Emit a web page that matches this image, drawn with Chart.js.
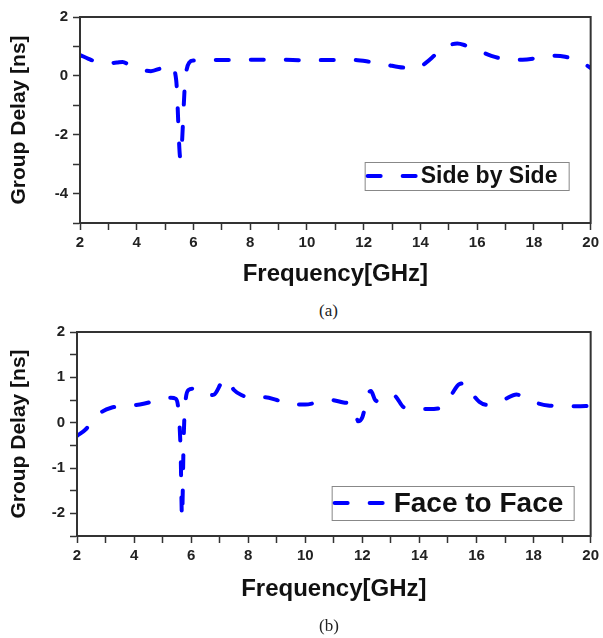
<!DOCTYPE html>
<html lang="en">
<head>
<meta charset="UTF-8">
<title>Group Delay</title>
<script src="https://cdn.jsdelivr.net/npm/chart.js"></script>
<style>
  body { margin: 0; background: #fff; width: 603px; height: 638px; position: relative; overflow: hidden; }
  .panel { position: absolute; left: 0; width: 603px; height: 300px; }
  .caption { position: absolute; font-family: "Liberation Serif", "DejaVu Serif", serif; font-size: 17px; line-height: 20px; color: #222; }
</style>
</head>
<body>
<div class="panel" style="top:0"><canvas id="chartA"></canvas></div>
<div class="caption" style="top:301px; left:319px">(a)</div>
<div class="panel" style="top:318px"><canvas id="chartB"></canvas></div>
<div class="caption" style="top:616px; left:319px">(b)</div>

<script>
// (a) Side by Side
const freqA = [2.0, 2.3, 2.6, 3.0, 3.3, 3.5, 3.8, 4.2, 4.5, 4.8, 5.05, 5.2, 5.39, 5.54, 5.71, 5.85, 6.0,
  7.0, 8.0, 9.0, 10.0, 11.0, 11.6, 12.2, 12.8, 13.4, 13.9, 14.2, 14.6, 15.0, 15.3, 15.6, 16.0,
  16.5, 17.0, 17.6, 18.2, 18.7, 19.1, 19.6, 20.0];
const delayA = [0.71, 0.58, 0.47, 0.43, 0.45, 0.47, 0.33, 0.2, 0.16, 0.24, 0.34, 0.36, -0.14, -2.82, -0.14, 0.45, 0.52,
  0.54, 0.55, 0.55, 0.53, 0.54, 0.54, 0.48, 0.38, 0.28, 0.27, 0.45, 0.78, 1.03, 1.1, 1.03, 0.88,
  0.68, 0.57, 0.55, 0.62, 0.68, 0.65, 0.5, 0.27];

// (b) Face to Face
const freqB = [2.0, 2.3, 2.6, 2.9, 3.2, 3.7, 4.2, 4.6, 5.0, 5.3, 5.45, 5.55, 5.63, 5.68, 5.74, 5.78, 5.9,
  6.1, 6.5, 6.8, 7.1, 7.25, 7.5, 7.8, 8.2, 8.6, 9.0, 9.5, 10.0, 10.5, 10.9, 11.3, 11.6, 11.75,
  11.85, 12.0, 12.2, 12.3, 12.45, 12.7, 12.95, 13.1, 13.45, 13.8, 14.3, 14.7, 15.1, 15.4, 15.65,
  15.9, 16.1, 16.4, 16.7, 17.0, 17.4, 17.9, 18.5, 19.0, 19.5, 20.0];
const delayB = [-0.29, -0.15, 0.08, 0.25, 0.33, 0.37, 0.4, 0.46, 0.53, 0.55, 0.53, 0.3, -0.6, -2.1, -0.3, 0.3, 0.72,
  0.75, 0.6, 0.62, 0.92, 0.97, 0.72, 0.6, 0.53, 0.56, 0.5, 0.4, 0.4, 0.46, 0.5, 0.45, 0.4, 0.28,
  0.03, 0.12, 0.63, 0.7, 0.5, 0.45, 0.55, 0.6, 0.34, 0.3, 0.3, 0.32, 0.6, 0.85, 0.87,
  0.6, 0.46, 0.39, 0.44, 0.52, 0.62, 0.48, 0.38, 0.37, 0.36, 0.37];

const xLabels = [2, 4, 6, 8, 10, 12, 14, 16, 18, 20];
const yLabelsA = [-4, -2, 0, 2];
const yLabelsB = [-2, -1, 0, 1, 2];

const FONT = '"Liberation Sans", Arial, sans-serif';

// box round the plot area
const framePlugin = {
  id: 'frame',
  afterDatasetsDraw(chart) {
    const { ctx, chartArea: a } = chart;
    ctx.save();
    ctx.strokeStyle = '#333';
    ctx.lineWidth = 2;
    ctx.strokeRect(a.left, a.top, a.right - a.left, a.bottom - a.top);
    ctx.restore();
  }
};

// legend drawn inside the plot, bottom right
const insideLegend = {
  id: 'insideLegend',
  afterDraw(chart, args, opts) {
    const { ctx, chartArea: a } = chart;
    const ds = chart.data.datasets[0];
    const x = a.right - opts.right - opts.width;
    const y = a.bottom - opts.bottom - opts.height;
    const mid = y + opts.height / 2;
    ctx.save();
    ctx.fillStyle = '#fff';
    ctx.fillRect(x, y, opts.width, opts.height);
    ctx.strokeStyle = '#888';
    ctx.lineWidth = 1;
    ctx.strokeRect(x + 0.5, y + 0.5, opts.width, opts.height);
    ctx.strokeStyle = ds.borderColor;
    ctx.lineWidth = ds.borderWidth;
    ctx.lineCap = 'round';
    ctx.setLineDash(ds.borderDash);
    ctx.beginPath();
    ctx.moveTo(x + opts.inset, mid);
    ctx.lineTo(x + opts.inset + opts.sample, mid);
    ctx.stroke();
    ctx.setLineDash([]);
    ctx.fillStyle = '#111';
    ctx.font = 'bold ' + opts.fontSize + 'px ' + FONT;
    ctx.textBaseline = 'middle';
    ctx.fillText(ds.label, x + opts.inset + opts.sample + opts.gap, mid + 1);
    ctx.restore();
  }
};

function makeChart(id, xs, ys, label, yMin, yMax, yStep, yLabels, lay, legendOpts) {
  const pts = xs.map((x, i) => ({ x: x, y: ys[i] }));
  return new Chart(document.getElementById(id), {
    type: 'line',
    data: {
      datasets: [{
        label: label,
        data: pts,
        borderColor: '#0000ff',
        borderWidth: 4,
        borderDash: [13, 22],
        borderCapStyle: 'round',
        pointRadius: 0,
        cubicInterpolationMode: 'monotone',
        fill: false
      }]
    },
    options: {
      animation: false,
      responsive: true,
      maintainAspectRatio: false,
      layout: { padding: { top: lay.top, right: lay.right, left: 0, bottom: 0 } },
      plugins: {
        legend: { display: false },
        tooltip: { enabled: false },
        insideLegend: legendOpts
      },
      scales: {
        x: {
          type: 'linear',
          min: 2, max: 20,
          afterFit: s => { s.height = lay.xHeight; },
          border: { color: '#333', width: 2 },
          grid: { drawOnChartArea: false, tickLength: 7, color: '#333', tickWidth: 1.5 },
          ticks: {
            stepSize: 1, autoSkip: false, maxRotation: 0, padding: 4,
            color: '#222', font: { family: FONT, size: 15, weight: 'bold' },
            callback: v => xLabels.includes(v) ? String(v) : ''
          },
          title: {
            display: true, text: 'Frequency[GHz]', color: '#111',
            font: { family: FONT, size: 24, weight: 'bold' },
            padding: { top: 0, bottom: lay.xTitlePad }
          }
        },
        y: {
          min: yMin, max: yMax,
          afterFit: s => { s.width = lay.left; },
          border: { color: '#333', width: 2 },
          grid: { drawOnChartArea: false, tickLength: 7, color: '#333', tickWidth: 1.5 },
          ticks: {
            stepSize: yStep, autoSkip: false, padding: 5,
            color: '#222', font: { family: FONT, size: 15, weight: 'bold' },
            callback: v => yLabels.includes(v) ? String(v) : ''
          },
          title: {
            display: true, text: 'Group Delay [ns]', color: '#111',
            font: { family: FONT, size: 21, weight: 'bold' },
            padding: { top: 7, bottom: 0 }
          }
        }
      }
    },
    plugins: [framePlugin, insideLegend]
  });
}

makeChart('chartA', freqA, delayA, 'Side by Side', -5, 2, 1, yLabelsA,
  { top: 17, right: 9, left: 80, xHeight: 77, xTitlePad: 11 },
  { right: 22, bottom: 33, width: 204, height: 28, inset: 3, sample: 50, gap: 3, fontSize: 23 });

makeChart('chartB', freqB, delayB, 'Face to Face', -2.5, 2, 0.5, yLabelsB,
  { top: 12, right: 12, left: 77, xHeight: 82, xTitlePad: 14 },
  { right: 17, bottom: 16, width: 242, height: 34, inset: 3, sample: 52, gap: 7, fontSize: 28 });
</script>
</body>
</html>
